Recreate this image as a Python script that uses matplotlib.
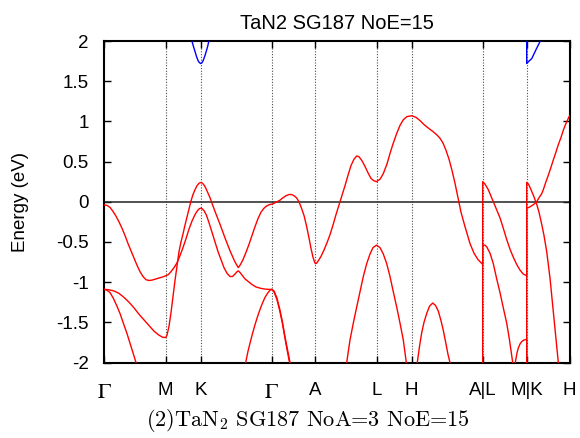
import matplotlib
matplotlib.use("Agg")
import matplotlib.pyplot as plt

plt.rcParams['font.family'] = ['Liberation Sans', 'DejaVu Sans']
plt.rcParams['axes.unicode_minus'] = False

title = "TaN2 SG187 NoE=15"
caption = "(2)TaN$_2$ SG187 NoA=3 NoE=15"
ylabel = "Energy (eV)"

kpath_ticks = [0, 61.7, 96.7, 167.7, 211.3, 272.5, 307.7, 378.7, 422.7, 465.5]
kpath_labels = [r"$\Gamma$", "M", "K", r"$\Gamma$", "A", "L", "H", "A|L", "M|K", "H"]
ytick_vals = [-2, -1.5, -1, -0.5, 0, 0.5, 1, 1.5, 2]
ytick_labels = ["-2", "-1.5", "-1", "-0.5", "0", "0.5", "1", "1.5", "2"]

# valence bands (red)
band_a_k = [0, 3, 6, 9, 12, 15, 18, 21, 24, 27, 30, 33, 36, 39, 42, 45, 48, 52, 56, 59, 61.7,
            64, 67, 70, 73, 76, 79, 82, 85, 88, 91, 93.5, 95.5, 96.7, 98, 100, 102.5, 105, 108,
            111, 114, 117, 120, 123, 126, 128.5, 131, 133, 134.3, 136, 138.5, 141, 144, 148,
            152, 156, 160, 164, 167.7, 170, 173, 176, 178.5, 181, 183.5, 186, 187.5]
band_a_e = [-0.04, -0.045, -0.07, -0.12, -0.18, -0.25, -0.33, -0.42, -0.52, -0.61, -0.70, -0.79,
            -0.87, -0.93, -0.97, -0.98, -0.975, -0.96, -0.945, -0.935, -0.92,
            -0.91, -0.87, -0.82, -0.76, -0.67, -0.57, -0.46, -0.34, -0.24, -0.16, -0.11, -0.085,
            -0.08, -0.085, -0.11, -0.17, -0.26, -0.38, -0.50, -0.62, -0.72, -0.82, -0.89, -0.93,
            -0.93, -0.90, -0.87, -0.86, -0.88, -0.92, -0.96, -0.99, -1.03, -1.06, -1.075,
            -1.085, -1.09, -1.09, -1.12, -1.22, -1.37, -1.52, -1.70, -1.87, -2.03, -2.12]

band_q_k = [0, 5, 10, 15, 20, 25, 30, 35, 40, 45, 50, 55, 58.5, 61.7, 63, 65, 67, 69, 71, 73,
            75, 77, 79, 81, 83, 85, 87, 89, 91, 93, 95, 96.7, 98.5, 100.5, 102.5, 104.3, 106,
            108, 111, 116, 121, 126, 131, 134.3, 136.5, 139, 142, 145, 148, 151, 154, 157, 160,
            163, 165.5, 167.7, 170, 173, 176, 179, 182, 185, 187.5, 190, 192.5, 195, 197.5, 200,
            202.5, 205, 207, 209, 210.3, 211.3, 212.5, 214, 217, 220, 223, 226, 229, 232, 235,
            238, 241, 244, 247, 250, 252.7, 255, 258, 261, 264, 267, 270, 272.5,
            276, 279.3, 283, 286, 289, 292.7, 296, 299.3, 303, 307.7, 312, 316, 320, 324, 329.3,
            333, 336, 339, 342, 345, 348, 351, 354, 357, 361, 366, 370, 374, 378.7,
            378.7, 381, 384.3, 389.3, 392.7, 396, 399.3, 402.7, 406, 409.3, 412.7, 416, 419.3, 422.7,
            422.7, 424.5, 427, 430, 432.7, 435, 437.7, 440, 442.7, 446, 450, 454.3, 455.5]
band_q_e = [-1.09, -1.095, -1.11, -1.14, -1.19, -1.25, -1.32, -1.40, -1.47, -1.54, -1.61, -1.66,
            -1.685, -1.69, -1.66, -1.55, -1.38, -1.18, -0.98, -0.80, -0.62, -0.50, -0.40, -0.29,
            -0.19, -0.09, 0.01, 0.09, 0.15, 0.20, 0.23, 0.24, 0.23, 0.20, 0.15, 0.10, 0.05,
            -0.02, -0.12, -0.28, -0.45, -0.61, -0.75, -0.82, -0.78, -0.72, -0.63, -0.53, -0.42,
            -0.31, -0.21, -0.13, -0.08, -0.05, -0.035, -0.03, -0.02, 0.0, 0.02, 0.05, 0.075,
            0.09, 0.09, 0.075, 0.05, 0.0, -0.08, -0.17, -0.30, -0.45, -0.58, -0.69, -0.74,
            -0.77, -0.765, -0.74, -0.68, -0.60, -0.51, -0.41, -0.29, -0.16, -0.04, 0.08, 0.20,
            0.33, 0.45, 0.53, 0.57, 0.56, 0.51, 0.44, 0.36, 0.29, 0.26, 0.25,
            0.28, 0.35, 0.47, 0.60, 0.72, 0.85, 0.95, 1.02, 1.06, 1.07, 1.05, 1.01, 0.96, 0.92,
            0.87, 0.83, 0.79, 0.73, 0.64, 0.53, 0.39, 0.23, 0.05, -0.13, -0.31, -0.52, -0.64,
            -0.72, -0.78,
            0.25, 0.22, 0.15, 0.0, -0.10, -0.20, -0.33, -0.47, -0.59, -0.69, -0.78, -0.85, -0.90, -0.92,
            0.24, 0.22, 0.15, 0.06, -0.03, -0.13, -0.28, -0.42, -0.62, -0.95, -1.45, -2.0, -2.15]

band_r_k = [0, 3, 6, 9.3, 13, 16, 19.3, 23, 26, 29, 32, 33.5]
band_r_e = [-1.09, -1.10, -1.13, -1.20, -1.30, -1.39, -1.51, -1.64, -1.76, -1.88, -2.0, -2.1]

band_s_k = [140, 141.7, 144, 146, 148.5, 151, 153.5, 156, 158.5, 161, 163.5, 166, 167.7, 170,
            173, 176, 178.5, 181, 183.5, 186, 187.5]
band_s_e = [-2.1, -2.0, -1.86, -1.76, -1.64, -1.53, -1.43, -1.34, -1.26, -1.19, -1.14, -1.10,
            -1.09, -1.11, -1.20, -1.35, -1.50, -1.68, -1.84, -2.0, -2.1]

band_t_k = [241.8, 242.7, 246, 249.3, 252.7, 256, 259.3, 262.7, 266, 269, 272.5, 276, 279.3,
            282.7, 286, 289.3, 292.7, 296, 299.3, 302.3, 303.2]
band_t_e = [-2.1, -2.0, -1.72, -1.51, -1.31, -1.12, -0.93, -0.77, -0.65, -0.57, -0.54, -0.57,
            -0.65, -0.77, -0.93, -1.12, -1.31, -1.51, -1.72, -2.0, -2.1]

band_u_k = [312.5, 313.3, 315.5, 317.7, 320, 322.7, 325.5, 328.7, 331.5, 334.3, 337, 339.3,
            342, 344, 346, 347]
band_u_e = [-2.1, -2.0, -1.80, -1.63, -1.50, -1.39, -1.30, -1.26, -1.29, -1.36, -1.48, -1.60,
            -1.77, -1.90, -2.0, -2.1]

band_v_k = [378.7, 378.7, 381, 382.7, 386, 389.3, 392.7, 396, 399.3, 402.7, 405.5, 408.7, 410,
            411.3, 413, 414.3, 416, 417.7, 420, 422.7, 422.7]
band_v_e = [-2.3, -0.54, -0.54, -0.56, -0.64, -0.77, -0.96, -1.13, -1.32, -1.51, -1.72, -2.0,
            -2.15, -2.0, -1.88, -1.82, -1.77, -1.74, -1.72, -1.71, -2.3]

band_w_k = [422.7, 422.7, 425, 427.7, 430, 432.7, 435, 437.7, 439.3, 441.7, 444.3, 447, 449.3,
            452, 454.3, 457, 459.3, 461.5, 463.3, 465.5]
band_w_e = [-2.3, -0.08, -0.07, -0.05, -0.03, 0.0, 0.05, 0.10, 0.15, 0.24, 0.33, 0.43, 0.52,
            0.62, 0.71, 0.80, 0.89, 0.96, 1.01, 1.07]

# conduction band (blue)
band_c1_k = [86.5, 87.7, 89.5, 91, 92.7, 94.3, 95.5, 96.7, 98, 99.3, 101, 102.7, 104, 105, 106]
band_c1_e = [2.1, 2.01, 1.93, 1.87, 1.80, 1.75, 1.73, 1.72, 1.73, 1.76, 1.82, 1.89, 1.95, 2.01, 2.1]

band_c2_k = [422.7, 422.7, 425, 427.7, 430, 432.7, 434.7, 436.7, 437.5]
band_c2_e = [2.3, 1.72, 1.75, 1.78, 1.84, 1.91, 1.96, 2.01, 2.05]

red_bands = [(band_a_k, band_a_e), (band_q_k, band_q_e), (band_r_k, band_r_e),
             (band_s_k, band_s_e), (band_t_k, band_t_e), (band_u_k, band_u_e),
             (band_v_k, band_v_e), (band_w_k, band_w_e)]
blue_bands = [(band_c1_k, band_c1_e), (band_c2_k, band_c2_e)]

W, H = 580, 438
fig = plt.figure(figsize=(W / 100, H / 100), dpi=100)
ax = fig.add_axes([104 / W, 1 - 362.5 / H, 465.5 / W, 321.5 / H])

for k in kpath_ticks[1:-1]:
    ax.axvline(k, color='0.3', lw=0.8, ls=(0, (1, 1.5)), zorder=1)
ax.axhline(0, color='#222222', lw=1.1, zorder=2)

for ks, es in red_bands:
    ax.plot(ks, es, color='#ff0000', lw=1.0, zorder=3, solid_joinstyle='round')
for ks, es in blue_bands:
    ax.plot(ks, es, color='#0000ff', lw=1.0, zorder=3, solid_joinstyle='round')

ax.set_xlim(kpath_ticks[0], kpath_ticks[-1])
ax.set_ylim(-2, 2)
ax.set_yticks(ytick_vals)
ax.set_yticklabels(ytick_labels, fontsize=13.5)
ax.set_xticks(kpath_ticks)
ax.set_xticklabels(kpath_labels, fontsize=13.5)
for lbl in ax.get_xticklabels():
    if 'Gamma' in lbl.get_text():
        lbl.set_math_fontfamily('stix')
        lbl.set_fontsize(16)

ax.tick_params(axis='y', direction='in', length=5, width=1, right=True, pad=11)
ax.tick_params(axis='x', direction='in', length=5, width=1, top=True, pad=14)
for sp in ax.spines.values():
    sp.set_linewidth(1.5)

ax.set_title(title, fontsize=14.5, pad=8.4)
fig.text(21 / W, 1 - 201.7 / H, ylabel, rotation=90, ha='center', va='center', fontsize=13.5)
fig.text(307.5 / W, 1 - 426 / H, caption, ha='center', va='baseline', fontsize=16,
         family='cmr10', math_fontfamily='cm')

fig.savefig('out.png', dpi=100)
